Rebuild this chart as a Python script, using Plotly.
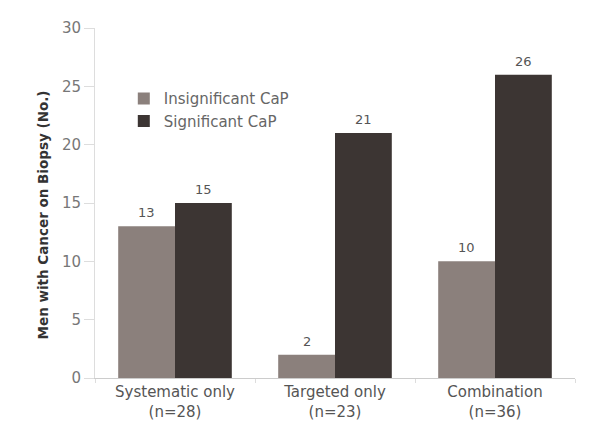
import plotly.graph_objects as go

categories = ["Systematic only<br>(n=28)", "Targeted only<br>(n=23)", "Combination<br>(n=36)"]
insignificant = [13, 2, 10]
significant = [15, 21, 26]
y_ticks = [0, 5, 10, 15, 20, 25, 30]

FONT = "DejaVu Sans, Verdana, sans-serif"

fig = go.Figure()
fig.add_trace(go.Bar(
    x=categories, y=insignificant, name="Insignificant CaP",
    marker=dict(color="#8b807c", line=dict(width=0)),
))
fig.add_trace(go.Bar(
    x=categories, y=significant, name="Significant CaP",
    marker=dict(color="#3c3533", line=dict(width=0)),
))

# value labels above bars
for vals, shift in ((insignificant, -28.4), (significant, 28.4)):
    for c, v in zip(categories, vals):
        fig.add_annotation(
            x=c, y=v, text=str(v), showarrow=False, xref="x", yref="y",
            xshift=shift, yshift=4, yanchor="bottom",
            font=dict(family=FONT, size=13, color="#555555"),
        )

# y-axis title
fig.add_annotation(
    text="<b>Men with Cancer on Biopsy (No.)</b>", textangle=-90,
    xref="paper", yref="paper", x=-0.108, y=0.465, xanchor="center", yanchor="middle",
    showarrow=False, font=dict(family=FONT, size=13.5, color="#333333"),
)

fig.update_layout(
    width=585, height=432,
    margin=dict(l=87, r=18, t=20, b=62),
    paper_bgcolor="white", plot_bgcolor="white",
    font=dict(family=FONT, size=14, color="#555555"),
    barmode="group", bargap=0.29, bargroupgap=0,
    legend=dict(
        x=0.06, y=0.845, xanchor="left", yanchor="top",
        bgcolor="rgba(0,0,0,0)", font=dict(family=FONT, size=15, color="#666666"),
        itemwidth=30, tracegroupgap=0,
    ),
    xaxis=dict(
        showline=True, linecolor="#cccccc", linewidth=1,
        ticks="outside", tickson="boundaries", ticklen=4, tickcolor="#dddddd",
        tickfont=dict(family=FONT, size=15, color="#555555"), range=[-0.5, 2.5],
    ),
    yaxis=dict(
        range=[0, 30], tickvals=y_ticks, showgrid=False, zeroline=False,
        showline=True, linecolor="#dddddd", linewidth=1,
        ticks="outside", ticklen=10, tickcolor="#dddddd",
        tickfont=dict(family=FONT, size=15, color="#777777"),
    ),
)

fig.write_html("out.html")
